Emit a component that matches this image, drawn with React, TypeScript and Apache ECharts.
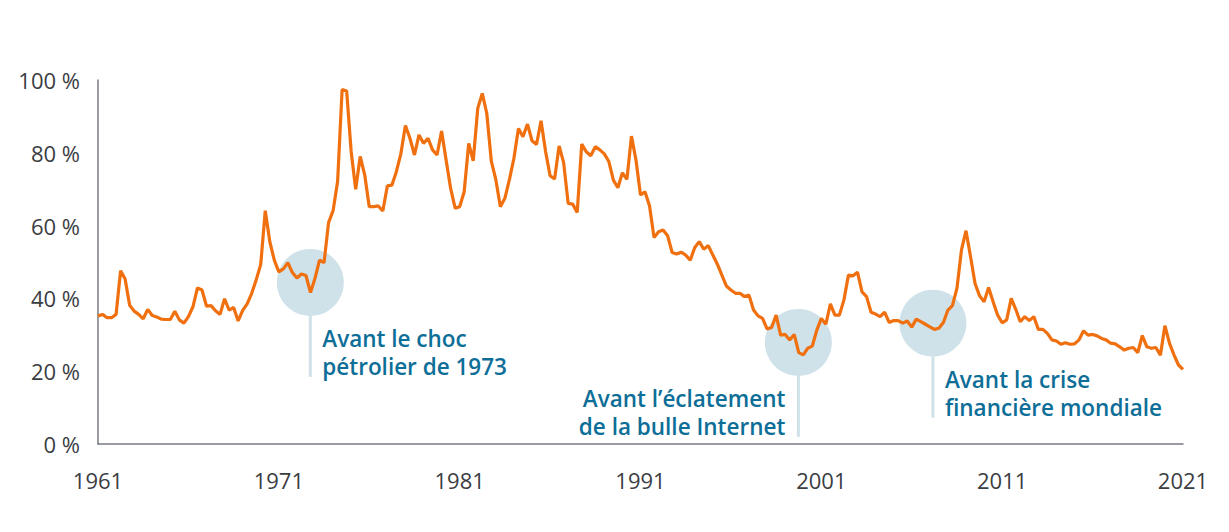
import React, { useEffect, useRef } from "react";
import * as echarts from "echarts";

// Quarterly series, 1961 T1 → 2021 T1 (%)
const startYear = 1961;
const values: number[] = [
  35.2, 35.6, 34.7, 34.7, 35.6, 47.6, 45.3, 38.1, 36.5, 35.6,
  34.4, 37.0, 35.3, 34.9, 34.3, 34.2, 34.2, 36.5, 34.1, 33.2,
  35.0, 37.7, 42.9, 42.3, 37.9, 38.0, 36.6, 35.6, 39.9, 36.8,
  37.5, 33.8, 36.7, 38.5, 41.4, 45.1, 49.4, 64.1, 55.6, 50.5,
  47.3, 48.1, 49.8, 47.1, 45.6, 46.7, 46.3, 41.6, 45.5, 50.5,
  49.8, 60.8, 64.1, 72.1, 97.4, 97.0, 80.3, 70.0, 79.0, 73.9,
  65.2, 65.2, 65.4, 64.0, 70.9, 71.1, 74.8, 79.8, 87.5, 84.0,
  79.4, 84.9, 82.6, 84.0, 80.8, 79.4, 86.0, 78.0, 70.2, 64.8,
  65.2, 69.3, 82.6, 77.8, 92.2, 96.3, 90.8, 77.7, 72.6, 65.2,
  67.5, 72.6, 78.5, 86.7, 84.4, 87.9, 83.3, 82.3, 88.8, 80.4,
  73.7, 72.8, 81.9, 77.3, 66.1, 65.9, 63.6, 82.4, 80.3, 79.2,
  81.7, 80.8, 79.7, 77.6, 72.5, 70.4, 74.5, 72.7, 84.6, 78.0,
  68.4, 69.3, 65.4, 56.7, 58.3, 58.8, 57.2, 52.6, 52.2, 52.7,
  51.9, 50.5, 54.0, 55.6, 53.5, 54.5, 51.9, 49.4, 46.4, 43.4,
  42.3, 41.4, 41.4, 40.5, 40.9, 36.8, 35.2, 34.5, 31.6, 32.0,
  35.4, 29.9, 30.1, 28.6, 30.1, 25.1, 24.5, 26.3, 26.9, 31.3,
  34.5, 32.9, 38.5, 35.4, 35.4, 39.6, 46.4, 46.2, 47.2, 41.8,
  40.5, 36.2, 35.7, 35.0, 36.2, 33.4, 33.9, 33.9, 33.2, 33.8,
  32.1, 34.3, 33.6, 32.9, 32.2, 31.5, 31.8, 33.4, 36.8, 38.0,
  42.8, 53.3, 58.6, 51.5, 44.1, 40.7, 39.1, 43.0, 39.1, 35.4,
  33.3, 34.1, 40.0, 37.0, 33.6, 35.0, 33.9, 35.0, 31.5, 31.5,
  30.4, 28.6, 28.3, 27.4, 27.8, 27.4, 27.5, 28.6, 31.1, 29.9,
  30.1, 29.7, 29.0, 28.6, 27.7, 27.5, 26.7, 25.8, 26.3, 26.5,
  25.1, 29.8, 26.7, 26.3, 26.5, 24.4, 32.5, 27.7, 24.5, 21.7,
  20.5,
];

const yTicks = [0, 20, 40, 60, 80, 100];
const xTickYears = [1961, 1971, 1981, 1991, 2001, 2011, 2021];

// Annotations: position in years since 1961 and value (%)
const annotationYears = [11.74, 38.73, 46.17];
const annotationValues = [44.4, 27.9, 33.2];
const annotationLabels = [
  "Avant le choc\npétrolier de 1973",
  "Avant l’éclatement\nde la bulle Internet",
  "Avant la crise\nfinancière mondiale",
];
const annotationAlign = ["left", "right", "left"];

const ORANGE = "#f07010";
const HALO = "#cfe1e9";
const TEAL = "#0d6e98";
const AXIS_TEXT = "#3a3d42";

export default function App() {
  const ref = useRef<HTMLDivElement>(null);

  useEffect(() => {
    if (!ref.current) return;
    const chart = echarts.init(ref.current, undefined, { renderer: "svg" });

    const lineData = values.map((v, i) => [i / 4, v]);
    const annData = annotationYears.map((y, i) => [y, annotationValues[i], i]);

    chart.setOption({
      animation: false,
      grid: { left: 98, right: 46, top: 80, bottom: 88, containLabel: false },
      xAxis: {
        type: "value",
        min: 0,
        max: xTickYears[xTickYears.length - 1] - startYear,
        interval: 10,
        axisLine: { show: true, lineStyle: { color: "#777c84", width: 1.5 } },
        axisTick: { show: false },
        splitLine: { show: false },
        axisLabel: {
          color: AXIS_TEXT,
          fontFamily: "Open Sans",
          fontSize: 22,
          margin: 25,
          formatter: (v: number) => String(startYear + v),
        },
      },
      yAxis: {
        type: "value",
        min: yTicks[0],
        max: yTicks[yTicks.length - 1],
        interval: 20,
        axisLine: { show: true, lineStyle: { color: "#777c84", width: 1.5 } },
        axisTick: { show: false },
        splitLine: { show: false },
        axisLabel: {
          color: AXIS_TEXT,
          fontFamily: "Open Sans",
          fontSize: 22,
          margin: 18,
          padding: [8, 0, 0, 0],
          formatter: (v: number) => `${v} %`,
        },
      },
      series: [
        {
          type: "custom",
          z: 1,
          silent: true,
          data: annData,
          renderItem: (params: any, api: any) => {
            const idx = params.dataIndex;
            const pt = api.coord([api.value(0), api.value(1)]);
            const cx = pt[0];
            const cy = pt[1];
            const r = 33.5;
            const left = annotationAlign[idx] === "left";
            return {
              type: "group",
              children: [
                {
                  type: "circle",
                  shape: { cx, cy, r },
                  style: { fill: HALO },
                },
                {
                  type: "line",
                  shape: { x1: cx, y1: cy + r, x2: cx, y2: cy + r + 61 },
                  style: { stroke: HALO, lineWidth: 3 },
                },
                {
                  type: "text",
                  style: {
                    text: annotationLabels[idx],
                    x: left ? cx + 12 : cx - 13,
                    y: cy + r + 9,
                    align: left ? "left" : "right",
                    verticalAlign: "top",
                    fill: TEAL,
                    fontFamily: "Open Sans",
                    fontWeight: 600,
                    fontSize: 22.5,
                    lineHeight: 28,
                  },
                },
              ],
            };
          },
        },
        {
          type: "line",
          z: 3,
          data: lineData,
          showSymbol: false,
          symbol: "none",
          lineStyle: { color: ORANGE, width: 3.2 },
          itemStyle: { color: ORANGE },
        },
      ],
    });

    return () => chart.dispose();
  }, []);

  return (
    <div
      ref={ref}
      style={{
        position: "fixed",
        left: 0,
        top: 0,
        width: "1229px",
        height: "532px",
        background: "#ffffff",
      }}
    />
  );
}
